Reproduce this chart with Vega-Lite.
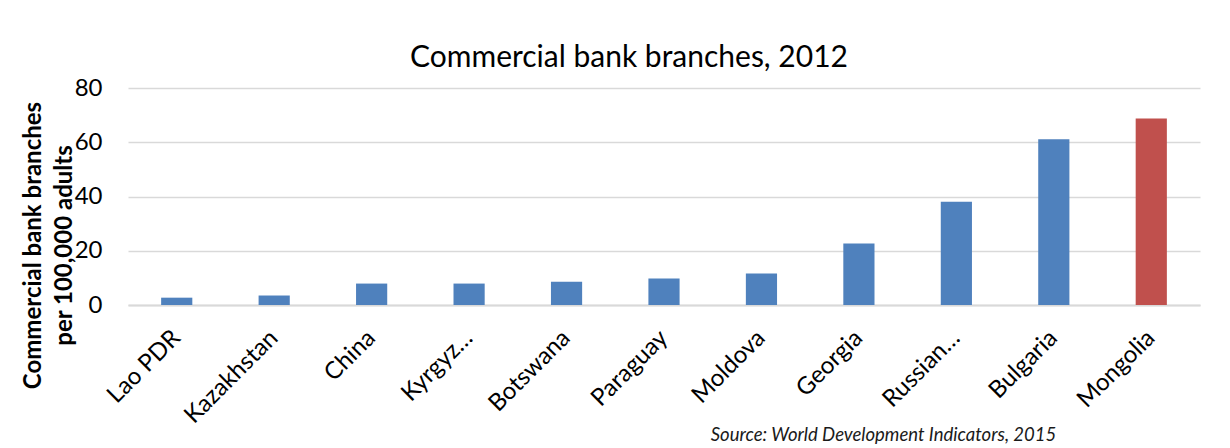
{
  "$schema": "https://vega.github.io/schema/vega-lite/v6.json",
  "width": 1072,
  "height": 217,
  "autosize": {"type": "none"},
  "padding": {"left": 128, "top": 88, "right": 30, "bottom": 143},
  "background": "white",
  "title": {
    "text": "Commercial bank branches, 2012",
    "font": "Lato",
    "fontSize": 30,
    "fontWeight": "normal",
    "color": "#000000",
    "anchor": "middle",
    "frame": "group",
    "dx": -35,
    "baseline": "alphabetic",
    "offset": -21
  },
  "data": {
    "values": [
      {"country": "Lao PDR", "value": 2.7, "group": "other"},
      {"country": "Kazakhstan", "value": 3.5, "group": "other"},
      {"country": "China", "value": 7.9, "group": "other"},
      {"country": "Kyrgyz…", "value": 7.9, "group": "other"},
      {"country": "Botswana", "value": 8.6, "group": "other"},
      {"country": "Paraguay", "value": 9.8, "group": "other"},
      {"country": "Moldova", "value": 11.6, "group": "other"},
      {"country": "Georgia", "value": 22.7, "group": "other"},
      {"country": "Russian…", "value": 38.1, "group": "other"},
      {"country": "Bulgaria", "value": 61.1, "group": "other"},
      {"country": "Mongolia", "value": 68.8, "group": "Mongolia"}
    ]
  },
  "mark": {"type": "bar"},
  "encoding": {
    "x": {
      "field": "country",
      "type": "nominal",
      "sort": null,
      "scale": {"paddingInner": 0.68, "paddingOuter": 0.34},
      "axis": {
        "title": "Source: World Development Indicators, 2015",
        "titleFont": "Lato",
        "titleFontSize": 18.5,
        "titleFontStyle": "italic",
        "titleFontWeight": "normal",
        "titleColor": "#1a1a1a",
        "titleAnchor": null,
        "titleAlign": "center",
        "titleBaseline": "alphabetic",
        "titleX": 755,
        "titleY": 135,
        "labelAngle": -45,
        "labelAlign": "right",
        "labelBaseline": "middle",
        "labelPadding": 29,
        "labelFont": "Lato",
        "labelFontSize": 24,
        "labelColor": "#000000",
        "ticks": false,
        "domainColor": "#d9d9d9",
        "domainWidth": 2,
        "grid": false
      }
    },
    "y": {
      "field": "value",
      "type": "quantitative",
      "scale": {"domain": [0, 80], "nice": false},
      "axis": {
        "values": [0, 20, 40, 60, 80],
        "title": ["Commercial bank branches", "per 100,000 adults"],
        "titleFont": "Lato",
        "titleFontSize": 24,
        "titleFontWeight": "bold",
        "titleColor": "#000000",
        "titleLineHeight": 31,
        "titleAngle": -90,
        "titleAlign": "center",
        "titleBaseline": "alphabetic",
        "titleX": -88,
        "titleY": 157,
        "labelFont": "Lato",
        "labelFontSize": 24,
        "labelColor": "#000000",
        "labelPadding": 26,
        "ticks": false,
        "domain": false,
        "grid": true,
        "gridColor": "#d9d9d9",
        "gridWidth": 1.5
      }
    },
    "color": {
      "field": "group",
      "type": "nominal",
      "scale": {"domain": ["other", "Mongolia"], "range": ["#4f81bd", "#c0504d"]},
      "legend": null
    }
  },
  "config": {
    "view": {"stroke": null}
  }
}
